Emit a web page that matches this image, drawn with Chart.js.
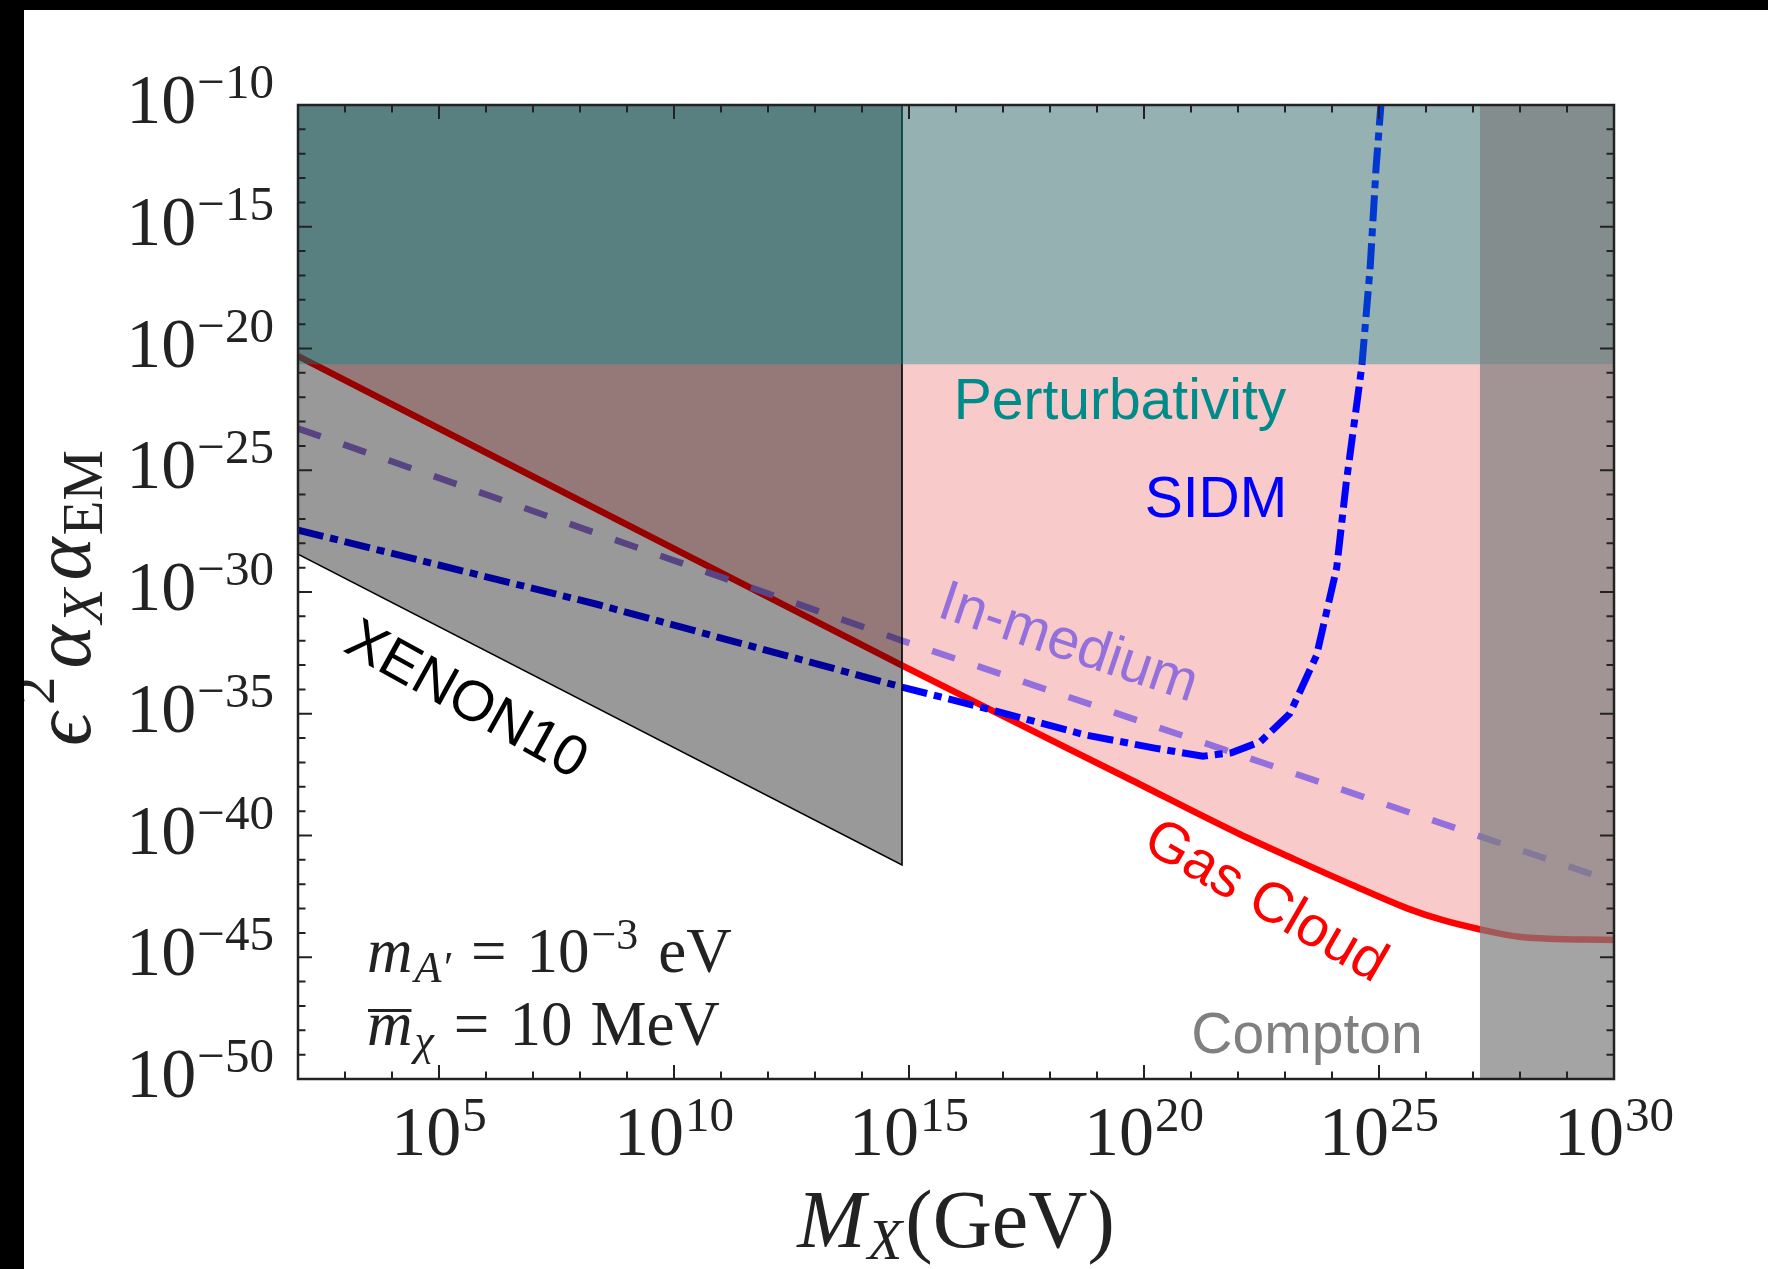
<!DOCTYPE html>
<html>
<head>
<meta charset="utf-8">
<script src="https://cdn.jsdelivr.net/npm/chart.js@4.4.1/dist/chart.umd.min.js"></script>
<style>
  html, body { margin: 0; padding: 0; background: #000; }
  #frame { position: relative; width: 1768px; height: 1269px; background: #000; overflow: hidden; }
  #chart { position: absolute; left: 24px; top: 10px; background: #fff; }
</style>
</head>
<body>
<div id="frame"><canvas id="chart" width="1744" height="1259"></canvas></div>
<script>
// M_X (GeV) vs epsilon^2 alpha_X alpha_EM

const gasCloudMass = [1e2, 6.9e14, 5.6e16, 4.4e19, 1.07e22, 1.7e23, 2.7e24, 4.4e25, 2.2e26, 1.3e27, 1.05e28, 1e30];
const gasCloudCoupling = [4.9e-21, 1.0e-33, 1.4e-35, 2.3e-38, 1.15e-40, 1.0e-41, 9.3e-43, 9.5e-44, 3.4e-44, 1.45e-44, 6.8e-45, 5.1e-45];

const inMediumMass = [1e2, 6.5e14, 1e30];
const inMediumCoupling = [5.2e-24, 1.07e-32, 1.26e-42];

const sidmMass = [1e2, 2.5e8, 6.5e14, 5.9e16, 5.6e18, 1.8e20, 1.8e21, 7.2e21, 3.0e22, 1.26e23, 4.7e23, 1.26e24, 2.0e24, 4.3e24, 6.5e24, 8.7e24, 1.12e25];
const sidmCoupling = [3.5e-28, 3.0e-31, 1.3e-34, 1.4e-35, 1.35e-36, 3.8e-37, 1.8e-37, 2.5e-37, 7.1e-37, 1.0e-35, 2.5e-33, 1.0e-29, 2.9e-26, 1.8e-21, 2.3e-17, 3.0e-13, 1.6e-10];

const xenonMass = [1e2, 7.1e14, 7.1e14];
const xenonCoupling = [3.6e-29, 6.2e-42, 1e-10];

const perturbMass = [1e2, 1e30];
const perturbCoupling = [2.24e-21, 2.24e-21];

const comptonMass = [1.4e27, 1e30];
const comptonCoupling = [1e-10, 1e-10];

const xMajorTicks = [1e5, 1e10, 1e15, 1e20, 1e25, 1e30];
const xMajorLabels = ['5', '10', '15', '20', '25', '30'];
const yMajorTicks = [1e-10, 1e-15, 1e-20, 1e-25, 1e-30, 1e-35, 1e-40, 1e-45, 1e-50];
const yMajorLabels = ['\u221210', '\u221215', '\u221220', '\u221225', '\u221230', '\u221235', '\u221240', '\u221245', '\u221250'];

const SERIF = '"Liberation Serif", "DejaVu Serif", serif';
const SANS = '"Liberation Sans", Arial, sans-serif';

function series(xs, ys) {
  return xs.map((x, i) => ({ x: x, y: ys[i] }));
}

// draw a row of text pieces [text, font, dy, gapAfter] one after another
function drawRuns(ctx, runs, x, y, align) {
  let w = 0;
  runs.forEach(r => { ctx.font = r[1]; w += ctx.measureText(r[0]).width + (r[3] || 0); });
  let cx = align === 'center' ? x - w / 2 : (align === 'right' ? x - w : x);
  runs.forEach(r => {
    ctx.font = r[1];
    ctx.fillText(r[0], cx, y + (r[2] || 0));
    cx += ctx.measureText(r[0]).width + (r[3] || 0);
  });
  return w;
}

function rotatedLabel(ctx, text, x, y, deg, color) {
  ctx.save();
  ctx.translate(x, y);
  ctx.rotate(deg * Math.PI / 180);
  ctx.fillStyle = color;
  ctx.font = '57px ' + SANS;
  ctx.textAlign = 'center';
  ctx.fillText(text, 0, 0);
  ctx.restore();
}

const decorPlugin = {
  id: 'decor',
  afterDraw(chart) {
    const ctx = chart.ctx;
    const a = chart.chartArea;
    const xs = chart.scales.x;
    const ys = chart.scales.y;
    ctx.save();

    // inward ticks on all four sides
    ctx.strokeStyle = '#222';
    ctx.lineWidth = 2;
    ctx.beginPath();
    for (let e = 2; e <= 30; e++) {
      const px = xs.getPixelForValue(Math.pow(10, e));
      const len = e % 5 === 0 ? 14 : 7.5;
      ctx.moveTo(px, a.bottom); ctx.lineTo(px, a.bottom - len);
      ctx.moveTo(px, a.top); ctx.lineTo(px, a.top + len);
    }
    for (let e = -50; e <= -10; e++) {
      const py = ys.getPixelForValue(Math.pow(10, e));
      const len = e % 5 === 0 ? 14 : 7.5;
      ctx.moveTo(a.left, py); ctx.lineTo(a.left + len, py);
      ctx.moveTo(a.right, py); ctx.lineTo(a.right - len, py);
    }
    ctx.stroke();
    ctx.lineWidth = 2.5;
    ctx.strokeRect(a.left, a.top, a.right - a.left, a.bottom - a.top);

    // tick labels
    ctx.fillStyle = '#222';
    ctx.textAlign = 'left';
    ctx.textBaseline = 'alphabetic';
    const main = '70px ' + SERIF;
    const sup = '49px ' + SERIF;
    xMajorTicks.forEach((v, i) => {
      drawRuns(ctx, [['10', main, 0, 1], [xMajorLabels[i], sup, -24]], xs.getPixelForValue(v), a.bottom + 76, 'center');
    });
    yMajorTicks.forEach((v, i) => {
      drawRuns(ctx, [['10', main, 0, 1], [yMajorLabels[i], sup, -25]], a.left - 24, ys.getPixelForValue(v) + 18, 'right');
    });

    // axis titles
    const big = '82px ' + SERIF;
    const bigIt = 'italic 82px ' + SERIF;
    const small = '57px ' + SERIF;
    const smallIt = 'italic 57px ' + SERIF;
    drawRuns(ctx, [['M', bigIt, 0, 2], ['X', smallIt, 12, 3], ['(GeV)', big, 0]], (a.left + a.right) / 2, a.bottom + 168, 'center');
    ctx.save();
    ctx.translate(66, 588);
    ctx.rotate(-Math.PI / 2);
    drawRuns(ctx, [['\u03f5', bigIt, 0, 8], ['2', small, -36, 8], ['\u03b1', bigIt, 0, 2], ['X', smallIt, 12, 8], ['\u03b1', bigIt, 0, 2], ['EM', small, 12]], 0, 0, 'center');
    ctx.restore();

    // parameter box
    const t = '63px ' + SERIF;
    const tIt = 'italic 63px ' + SERIF;
    const s = '44px ' + SERIF;
    const sIt = 'italic 44px ' + SERIF;
    drawRuns(ctx, [['m', tIt, 0, 2], ['A\u2032', sIt, 10, 20], ['=', t, 0, 20], ['10', t, 0, 2], ['\u22123', s, -23, 20], ['eV', t, 0]], 343, 962, 'left');
    drawRuns(ctx, [['m', tIt, 0, 2], ['\u03c7', sIt, 10, 20], ['=', t, 0, 20], ['10', t, 0, 18], ['MeV', t, 0]], 343, 1035, 'left');
    ctx.font = tIt;
    ctx.fillRect(344, 999, ctx.measureText('m').width - 2, 3);

    // region labels
    ctx.font = '57px ' + SANS;
    ctx.textAlign = 'center';
    ctx.fillStyle = '#008b8b';
    ctx.fillText('Perturbativity', 1096, 409);
    ctx.fillStyle = '#0000ff';
    ctx.fillText('SIDM', 1192, 507);
    ctx.fillStyle = '#808080';
    ctx.fillText('Compton', 1283, 1043);
    rotatedLabel(ctx, 'In-medium', 1039, 649, 18.6, '#9370db');
    rotatedLabel(ctx, 'XENON10', 434, 705, 29, '#000');
    rotatedLabel(ctx, 'Gas Cloud', 1233, 906, 30, '#ff0000');
    ctx.restore();
  }
};

const ctx = document.getElementById('chart').getContext('2d');
const chart = new Chart(ctx, {
  type: 'line',
  data: {
    datasets: [
      {
        label: 'Gas Cloud',
        data: series(gasCloudMass, gasCloudCoupling),
        borderColor: '#ff0000',
        borderWidth: 6.5,
        backgroundColor: '#f8caca',
        cubicInterpolationMode: 'monotone',
        fill: { value: 1e-10 },
        order: 6,
      },
      {
        label: 'In-medium',
        data: series(inMediumMass, inMediumCoupling),
        borderColor: '#9370db',
        borderWidth: 6.5,
        borderDash: [24, 24],
        fill: false,
        order: 5,
      },
      {
        label: 'SIDM',
        data: series(sidmMass, sidmCoupling),
        borderColor: '#0000ff',
        borderWidth: 7,
        borderDash: [26, 7, 8, 7],
        fill: false,
        order: 4,
      },
      {
        label: 'XENON10',
        data: series(xenonMass, xenonCoupling),
        borderColor: '#000',
        borderWidth: 1.6,
        backgroundColor: 'rgba(0,0,0,0.4)',
        fill: { value: 1e-10 },
        order: 3,
      },
      {
        label: 'Perturbativity',
        data: series(perturbMass, perturbCoupling),
        borderColor: 'transparent',
        borderWidth: 0,
        backgroundColor: 'rgba(0,139,139,0.4)',
        fill: { value: 1e-10 },
        order: 2,
      },
      {
        label: 'Compton',
        data: series(comptonMass, comptonCoupling),
        borderColor: 'transparent',
        borderWidth: 0,
        backgroundColor: 'rgba(125,125,125,0.7)',
        fill: { value: 1e-50 },
        order: 1,
      },
    ],
  },
  options: {
    responsive: false,
    animation: false,
    devicePixelRatio: 1,
    layout: { padding: { left: 274, top: 95, right: 154, bottom: 190 } },
    elements: {
      point: { radius: 0 },
      line: { tension: 0, borderCapStyle: 'butt' },
    },
    plugins: {
      legend: { display: false },
      tooltip: { enabled: false },
    },
    scales: {
      x: { type: 'logarithmic', min: 1e2, max: 1e30, display: false },
      y: { type: 'logarithmic', min: 1e-50, max: 1e-10, display: false },
    },
  },
  plugins: [decorPlugin],
});
</script>
</body>
</html>
